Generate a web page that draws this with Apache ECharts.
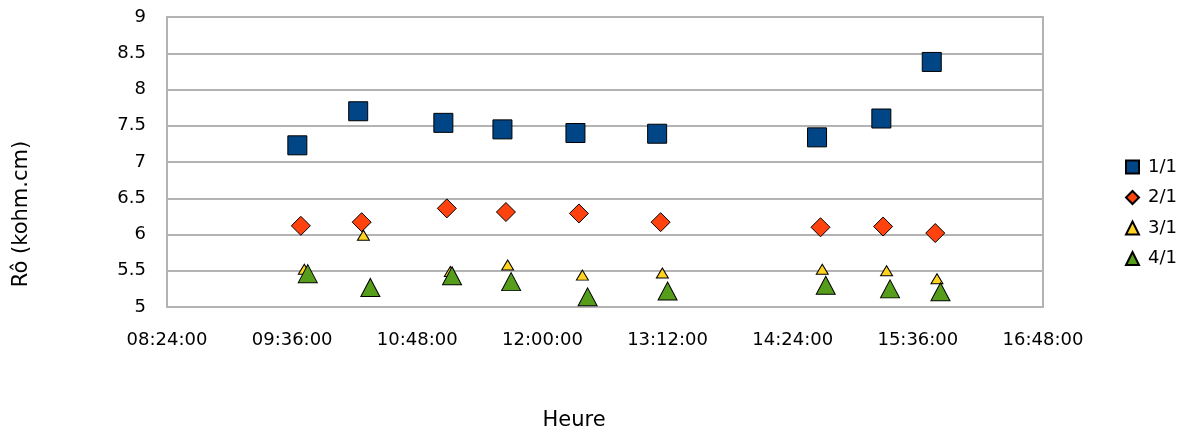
<!DOCTYPE html>
<html><head><meta charset="utf-8">
<script src="https://cdn.jsdelivr.net/npm/echarts@6/dist/echarts.min.js"></script>
<style>html,body{margin:0;padding:0;background:#fff}#c{width:1185px;height:434px}</style>
</head><body><div id="c"></div>
<script>
const seriesNames = ['1/1', '2/1', '3/1', '4/1'];
const xTickLabels = ['08:24:00', '09:36:00', '10:48:00', '12:00:00', '13:12:00', '14:24:00', '15:36:00', '16:48:00'];
const yMin = 5, yMax = 9, yStep = 0.5;

const times1 = ['09:39', '10:14', '11:03', '11:37', '12:19', '13:06', '14:38', '15:15', '15:44'];
const values1 = [7.23, 7.70, 7.54, 7.45, 7.40, 7.39, 7.34, 7.60, 8.38];
const times2 = ['09:41', '10:16', '11:05', '11:39', '12:21', '13:08', '14:40', '15:16', '15:46'];
const values2 = [6.12, 6.17, 6.36, 6.31, 6.29, 6.17, 6.10, 6.11, 6.02];
const times3 = ['09:43', '10:17', '11:07', '11:40', '12:23', '13:09', '14:41', '15:18', '15:47'];
const values3 = [5.52, 5.99, 5.49, 5.58, 5.44, 5.47, 5.52, 5.50, 5.39];
const times4 = ['09:45', '10:21', '11:08', '11:42', '12:26', '13:12', '14:43', '15:20', '15:49'];
const values4 = [5.46, 5.27, 5.43, 5.35, 5.14, 5.22, 5.30, 5.25, 5.21];

function toMin(t) { const p = t.split(':'); return (+p[0]) * 60 + (+p[1]) + (+(p[2] || 0)) / 60; }
function pairs(ts, vs) { return ts.map((t, i) => [toMin(t), vs[i]]); }

const xMin = toMin(xTickLabels[0]);
const xMax = toMin(xTickLabels[xTickLabels.length - 1]);
const xStep = toMin(xTickLabels[1]) - xMin;

const FONT = 'DejaVu Sans';
const colors = ['#004586', '#ff420e', '#ffd320', '#579d1c'];
const symbols = ['rect', 'diamond', 'triangle', 'triangle'];
const sizes = [19, 19, [12, 10], [19, 18]];
const datas = [pairs(times1, values1), pairs(times2, values2), pairs(times3, values3), pairs(times4, values4)];

const chart = echarts.init(document.getElementById('c'), null, { renderer: 'canvas' });
chart.setOption({
  animation: false,
  backgroundColor: '#ffffff',
  grid: { left: 167, top: 17, width: 876, height: 290, show: true, borderColor: '#b3b3b3', borderWidth: 2, containLabel: false },
  xAxis: {
    type: 'value', min: xMin, max: xMax, interval: xStep,
    axisLine: { show: false }, axisTick: { show: false }, splitLine: { show: false },
    axisLabel: {
      showMinLabel: true, showMaxLabel: true, margin: 24,
      color: '#000', fontFamily: FONT, fontSize: 18,
      formatter: v => xTickLabels[Math.round((v - xMin) / xStep)] || ''
    }
  },
  yAxis: {
    type: 'value', min: yMin, max: yMax, interval: yStep,
    axisLine: { show: false }, axisTick: { show: false },
    splitLine: { show: true, lineStyle: { color: '#b3b3b3', width: 2 } },
    axisLabel: { margin: 21, color: '#000', fontFamily: FONT, fontSize: 18 }
  },
  legend: {
    orient: 'vertical', left: 1125, top: 158, padding: 0, itemWidth: 13, itemHeight: 13, itemGap: 12.5,
    textStyle: { color: '#000', fontFamily: FONT, fontSize: 18, padding: [0, 0, 0, 4] },
    data: seriesNames
  },
  graphic: [
    { type: 'text', x: 22, y: 214, rotation: Math.PI / 2,
      style: { text: 'Rô (kohm.cm)', fill: '#000', font: '21px "DejaVu Sans"', align: 'center', verticalAlign: 'middle' } },
    { type: 'text', x: 574, y: 421,
      style: { text: 'Heure', fill: '#000', font: '21px "DejaVu Sans"', align: 'center', verticalAlign: 'middle' } }
  ],
  series: seriesNames.map((n, i) => ({
    name: n, type: 'scatter', data: datas[i], symbol: symbols[i], symbolSize: sizes[i],
    itemStyle: { color: colors[i], borderColor: '#000', borderWidth: 1, opacity: 1 }
  }))
});
</script></body></html>
